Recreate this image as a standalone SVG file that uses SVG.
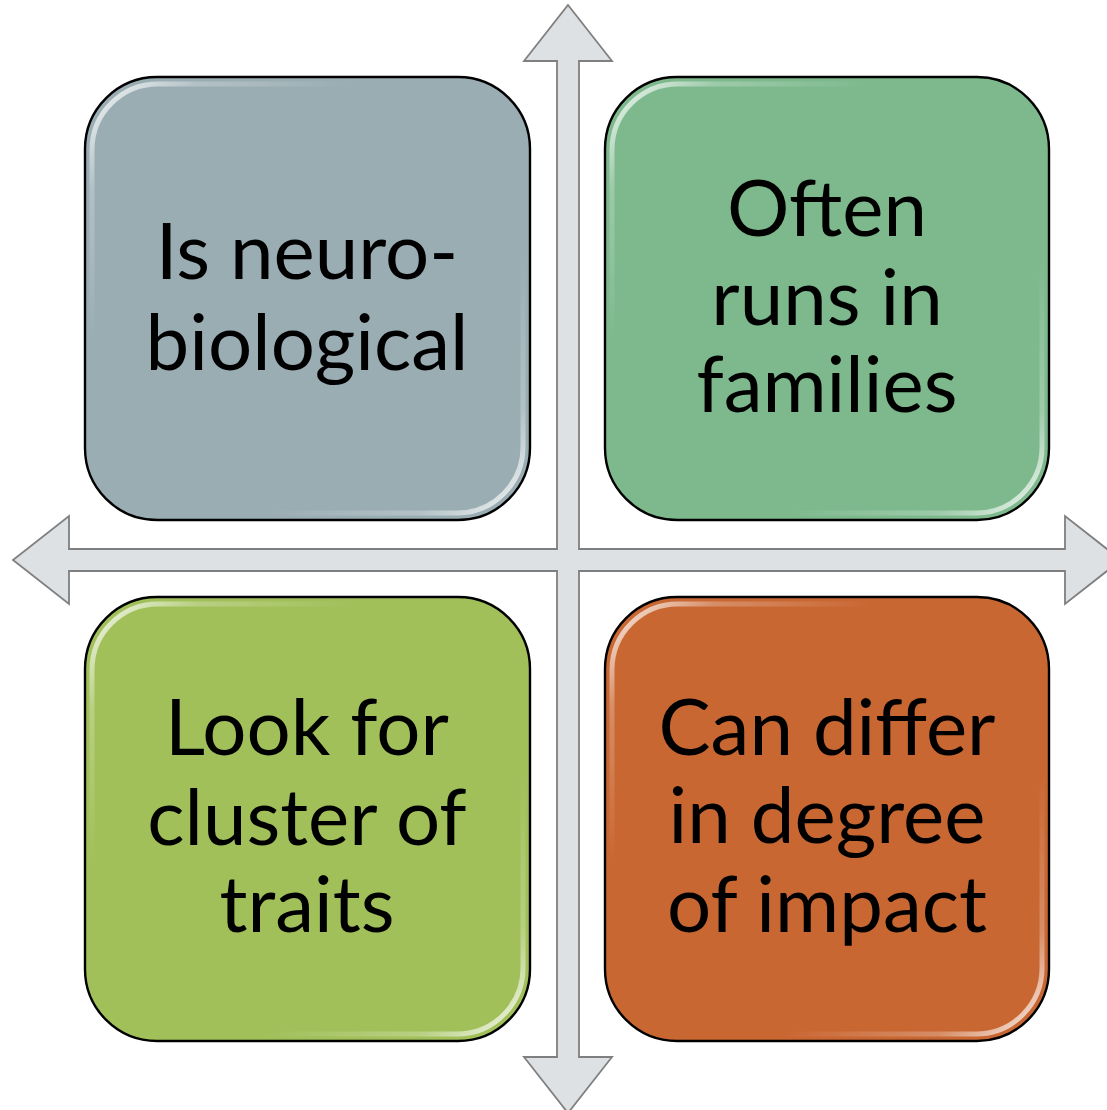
<svg xmlns="http://www.w3.org/2000/svg" width="1107" height="1110" viewBox="0 0 1107 1110">
  <style>
    .box { stroke: #000; stroke-width: 2.4; }
    .shine { fill: none; stroke: url(#shine); stroke-width: 5; }
    .lbl { font-family: Lato, "Liberation Sans", sans-serif; font-size: 78px; fill: #000; text-anchor: middle; }
    .axis { fill: #dde1e4; stroke: #7f7f7f; stroke-width: 1.8; stroke-linejoin: miter; }
  </style>
  <defs>
    <linearGradient id="shine" x1="0" y1="0" x2="1" y2="1">
      <stop offset="0" stop-color="#fff" stop-opacity="0.9"/>
      <stop offset="0.12" stop-color="#fff" stop-opacity="0.25"/>
      <stop offset="0.3" stop-color="#fff" stop-opacity="0"/>
      <stop offset="0.7" stop-color="#fff" stop-opacity="0"/>
      <stop offset="0.88" stop-color="#fff" stop-opacity="0.25"/>
      <stop offset="1" stop-color="#fff" stop-opacity="0.9"/>
    </linearGradient>
  </defs>
  <rect width="1107" height="1110" fill="#fff"/>
  <g id="axes">
    <path class="axis" d="M568,5 L612,61 L579,61 L579,549 L1065,549 L1065,516 L1121,560 L1065,604 L1065,571 L579,571 L579,1057 L612,1057 L568,1113 L524,1057 L557,1057 L557,571 L69,571 L69,604 L13,560 L69,516 L69,549 L557,549 L557,61 L524,61 Z"/>
  </g>
  <g id="node-neurobiological">
    <rect class="box" x="85" y="77" width="445" height="443" rx="72" fill="#9aadb3"/>
    <rect class="shine" x="92" y="84" width="431" height="429" rx="66"/>
    <text class="lbl" x="307" y="279">Is neuro-</text>
    <text class="lbl" x="307" y="370">biological</text>
  </g>
  <g id="node-families">
    <rect class="box" x="605" y="77" width="444" height="443" rx="72" fill="#7db98d"/>
    <rect class="shine" x="612" y="84" width="430" height="429" rx="66"/>
    <text class="lbl" x="827" y="236">Often</text>
    <text class="lbl" x="827" y="325">runs in</text>
    <text class="lbl" x="827" y="412">families</text>
  </g>
  <g id="node-traits">
    <rect class="box" x="85" y="597" width="445" height="444" rx="72" fill="#a1c05a"/>
    <rect class="shine" x="92" y="604" width="431" height="430" rx="66"/>
    <text class="lbl" x="307" y="755">Look for</text>
    <text class="lbl" x="307" y="845">cluster of</text>
    <text class="lbl" x="307" y="932">traits</text>
  </g>
  <g id="node-impact">
    <rect class="box" x="605" y="597" width="444" height="444" rx="72" fill="#c96733"/>
    <rect class="shine" x="612" y="604" width="430" height="430" rx="66"/>
    <text class="lbl" x="827" y="755">Can differ</text>
    <text class="lbl" x="827" y="843">in degree</text>
    <text class="lbl" x="827" y="932">of impact</text>
  </g>
</svg>
